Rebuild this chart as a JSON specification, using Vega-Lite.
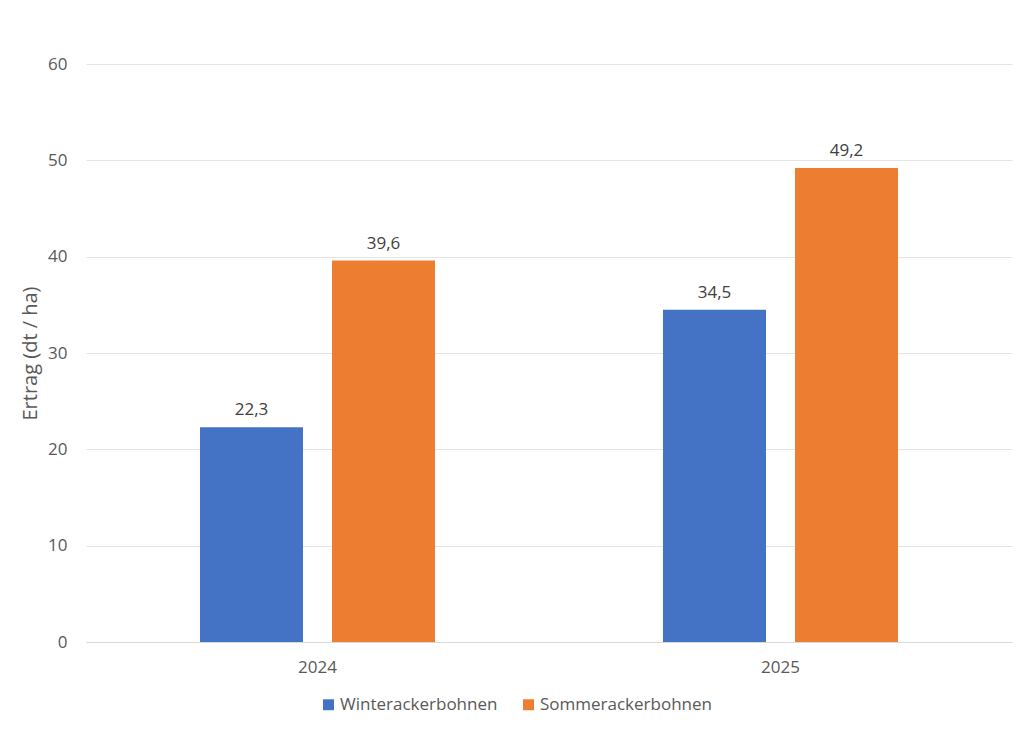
{
  "$schema": "https://vega.github.io/schema/vega-lite/v6.json",
  "width": 926,
  "height": 578,
  "autosize": {"type": "none"},
  "padding": {"left": 86, "top": 64, "right": 12, "bottom": 98},
  "background": "white",
  "config": {
    "font": "Open Sans",
    "view": {"stroke": null},
    "locale": {"number": {"decimal": ",", "thousands": ".", "grouping": [3], "currency": ["", " €"]}}
  },
  "data": {
    "values": [
      {"Jahr": "2024", "Sorte": "Winterackerbohnen", "Ertrag": 22.3},
      {"Jahr": "2024", "Sorte": "Sommerackerbohnen", "Ertrag": 39.6},
      {"Jahr": "2025", "Sorte": "Winterackerbohnen", "Ertrag": 34.5},
      {"Jahr": "2025", "Sorte": "Sommerackerbohnen", "Ertrag": 49.2}
    ]
  },
  "encoding": {
    "x": {
      "field": "Jahr",
      "type": "nominal",
      "scale": {"paddingInner": 0.4924, "paddingOuter": 0.2462},
      "axis": {
        "title": null,
        "labelAngle": 0,
        "labelFontSize": 17,
        "labelColor": "#595959",
        "labelPadding": 17,
        "ticks": false,
        "domainColor": "#d9d9d9",
        "domainWidth": 1.2
      }
    },
    "xOffset": {
      "field": "Sorte",
      "type": "nominal",
      "sort": ["Winterackerbohnen", "Sommerackerbohnen"],
      "scale": {"paddingInner": 0.2197, "paddingOuter": 0}
    },
    "y": {
      "field": "Ertrag",
      "type": "quantitative",
      "scale": {"domain": [0, 60]},
      "axis": {
        "title": "Ertrag (dt / ha)",
        "titleFontSize": 20,
        "titleFontWeight": "normal",
        "titleColor": "#595959",
        "titlePadding": 7,
        "values": [0, 10, 20, 30, 40, 50, 60],
        "labelFontSize": 17,
        "labelColor": "#595959",
        "labelPadding": 19,
        "ticks": false,
        "domain": false,
        "gridColor": "#e4e4e4",
        "gridWidth": 1.2
      }
    }
  },
  "layer": [
    {
      "mark": {"type": "bar"},
      "encoding": {
        "color": {
          "field": "Sorte",
          "type": "nominal",
          "sort": ["Winterackerbohnen", "Sommerackerbohnen"],
          "scale": {"domain": ["Winterackerbohnen", "Sommerackerbohnen"], "range": ["#4472C4", "#ED7D31"]},
          "legend": {
            "title": null,
            "orient": "none",
            "legendX": 234,
            "legendY": 632,
            "direction": "horizontal",
            "symbolType": "square",
            "symbolSize": 120,
            "symbolStrokeWidth": 0,
            "labelFontSize": 17,
            "labelColor": "#595959",
            "labelLimit": 400,
            "labelOffset": 3,
            "columnPadding": 22
          }
        }
      }
    },
    {
      "mark": {"type": "text", "baseline": "bottom", "dy": -8, "fontSize": 17, "color": "#404040"},
      "encoding": {
        "text": {"field": "Ertrag", "type": "quantitative", "format": ".1f"}
      }
    }
  ]
}
